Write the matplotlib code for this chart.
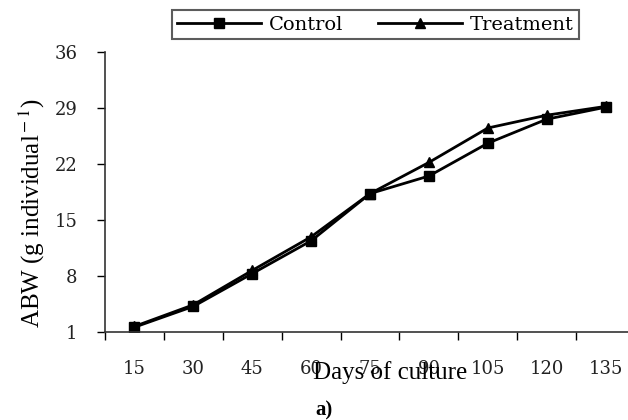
#!/usr/bin/env python3
"""
Average body weight over days of culture, control vs treatment.
"""

import numpy as np
import matplotlib
matplotlib.use('Agg')
import matplotlib.pyplot as plt

plt.rcParams['mathtext.fontset'] = 'stix'

# data
days = ['15', '30', '45', '60', '75', '90', '105', '120', '135']
control = [1.6, 4.2, 8.3, 12.4, 18.3, 20.5, 24.6, 27.6, 29.1]
treatment = [1.7, 4.4, 8.7, 12.9, 18.3, 22.2, 26.5, 28.1, 29.2]
y_ticks = [1, 8, 15, 22, 29, 36]

W, H = 628, 420
fig = plt.figure(figsize=(W / 100, H / 100), dpi=100)

# category axis, Excel style: points sit between tick marks
left, right, bottom, top = 105, 628, 332, 52
cat_w = 58.9
ax = fig.add_axes([left / W, 1 - bottom / H, (right - left) / W, (bottom - top) / H])

x = np.arange(len(days)) + 0.5
ax.plot(x, control, color='black', lw=2, marker='s', ms=7, label='Control')
ax.plot(x, treatment, color='black', lw=2, marker='^', ms=7.5, label='Treatment')

ax.set_xlim(0, (right - left) / cat_w)
ax.set_ylim(1, 36)
ax.set_yticks(y_ticks)
ax.set_yticklabels([str(v) for v in y_ticks], family='DejaVu Serif', fontsize=13,
                   color='#222222')
ax.set_xticks(np.arange(len(days)))
ax.set_xticklabels([])
ax.set_xticks(x, minor=True)
ax.set_xticklabels(days, minor=True, family='DejaVu Serif', fontsize=13,
                   color='#222222')
ax.tick_params(axis='x', which='minor', length=0, pad=20)
ax.tick_params(axis='x', which='major', direction='out', length=6, width=1)
ax.tick_params(axis='y', direction='out', length=6, width=1, pad=14)

for side in ['top', 'right']:
    ax.spines[side].set_visible(False)
for side in ['left', 'bottom']:
    ax.spines[side].set_linewidth(1.2)
    ax.spines[side].set_color('#333333')

# axis labels placed by hand like the original
fig.text(32 / W, 1 - 213 / H, r'ABW (g individual$^{\rm -1}$)', rotation=90,
         ha='center', va='center', family='Liberation Serif', fontsize=18)
fig.text(390 / W, 1 - 373 / H, 'Days of culture', ha='center', va='center',
         family='Liberation Serif', fontsize=18)
fig.text(324 / W, 1 - 410 / H, 'a)', ha='center', va='center',
         family='Liberation Serif', fontweight='bold', fontsize=15)

leg = fig.legend(loc='center', bbox_to_anchor=(375.5 / W, 1 - 24.5 / H), ncol=2,
                 prop={'family': 'DejaVu Serif', 'size': 14}, handlelength=4.3,
                 columnspacing=1.8, fancybox=False, edgecolor='#333333',
                 borderpad=0.3, handletextpad=0.4)
leg.get_frame().set_linewidth(1.5)

fig.savefig('out.png', dpi=100)
